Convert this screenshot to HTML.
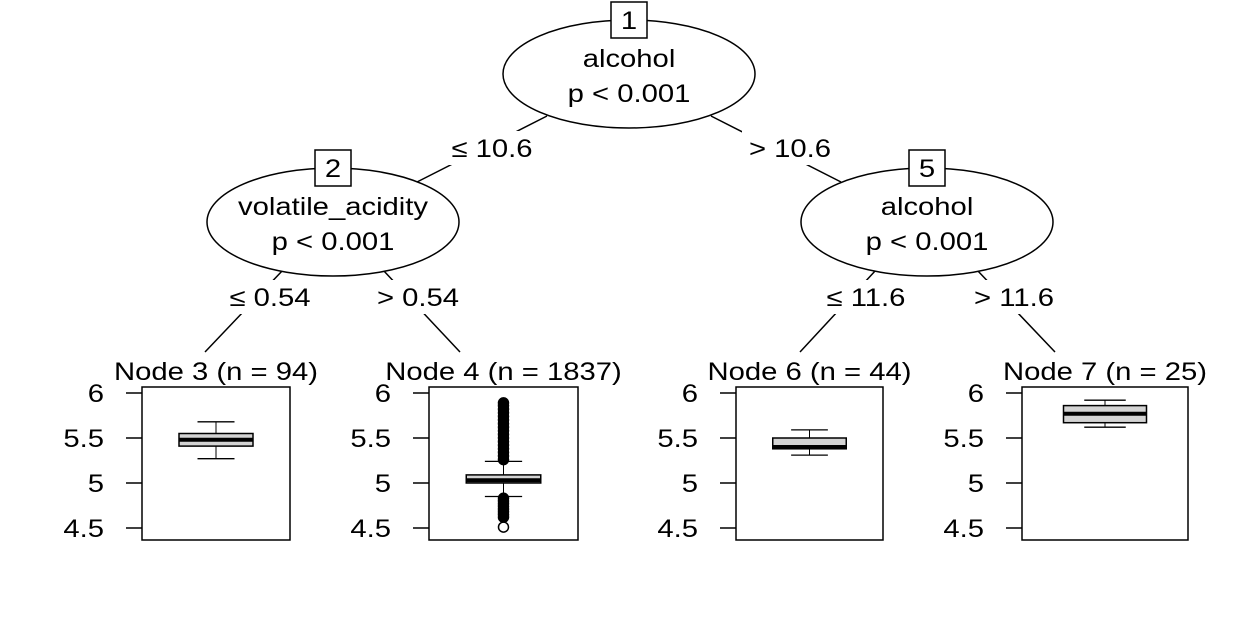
<!DOCTYPE html>
<html><head><meta charset="utf-8"><style>
html,body{margin:0;padding:0;background:#fff;}
svg{display:block;font-family:"Liberation Sans",sans-serif;}
</style></head><body>
<svg id="chart" width="1260" height="630" viewBox="0 0 1260 630"></svg>
<script>
const nodeIds=[3,4,6,7];
const nodeCounts=[94,1837,44,25];
const whiskLow=[5.27,4.85,5.31,5.62];
const q1=[5.41,5.00,5.38,5.67];
const medians=[5.48,5.03,5.40,5.77];
const q3=[5.55,5.09,5.50,5.86];
const whiskHigh=[5.68,5.24,5.59,5.92];
const outliersHigh=[[],[5.26,5.3,5.34,5.38,5.42,5.46,5.5,5.54,5.58,5.62,5.66,5.7,5.74,5.78,5.82,5.86,5.89],[],[]];
const outliersLow=[[],[4.83,4.8,4.77,4.74,4.71,4.68,4.65,4.62,4.51],[],[]];
const yTicks=[4.5,5,5.5,6];
const splitVars=["alcohol","volatile_acidity","alcohol"];
const edgeLabels=["\u2264 10.6","> 10.6","\u2264 0.54","> 0.54","\u2264 11.6","> 11.6"];

const NS="http://www.w3.org/2000/svg";
const svg=document.getElementById('chart');
const FS=25, SX=1.17;
function mk(t,a,p){const e=document.createElementNS(NS,t);for(const k in a)e.setAttribute(k,a[k]);(p||svg).appendChild(e);return e;}
function txt(x,y,s,anchor,p){const e=mk('text',{x:0,y:0,'text-anchor':anchor||'middle','font-size':FS,fill:'#000',transform:'translate('+x+','+y+') scale('+SX+',1)'},p);e.textContent=s;return e;}
const panelX=[[142,290],[429,578],[736,883],[1022,1188]];
const pTop=387,pBot=540;
function yS(v){return 393+(6-v)*90;}

const inner=[{id:1,cx:629,cy:74},{id:2,cx:333,cy:222},{id:5,cx:927,cy:222}];
const edgeFrom=[[547,116],[711,116],[283,270],[383,270],[876,270],[977,270]];
const edgeTo=[[417,182],[841,182],[205,352],[460,352],[800,352],[1055,352]];
const labelPos=[[492,157],[790,157],[270,306],[418,306],[866,306],[1014,306]];
edgeFrom.forEach((f,i)=>{
  const l=mk('line',{x1:f[0],y1:f[1],x2:edgeTo[i][0],y2:edgeTo[i][1],stroke:'#000','stroke-width':1.5});
  
  
});
edgeFrom.forEach((f,i)=>{
  const r=mk('rect',{x:labelPos[i][0]-48,y:labelPos[i][1]-26,width:96,height:34,fill:'#fff'});
  
  
  const t=txt(labelPos[i][0],labelPos[i][1],edgeLabels[i]);
  
  
});
inner.forEach((n,i)=>{
  const g=mk('g',{});
  
  
  mk('ellipse',{cx:n.cx,cy:n.cy,rx:126,ry:54,fill:'#fff',stroke:'#000','stroke-width':1.5},g);
  mk('rect',{x:n.cx-18,y:n.cy-72,width:36,height:36,fill:'#fff',stroke:'#000','stroke-width':1.5},g);
  txt(n.cx,n.cy-45,String(n.id),'middle',g);
  txt(n.cx,n.cy-7,splitVars[i],'middle',g);
  txt(n.cx,n.cy+28,'p < 0.001','middle',g);
});

nodeIds.forEach((id,i)=>{
  const [x0,x1]=panelX[i];const cx=(x0+x1)/2;const w=x1-x0;
  const g=mk('g',{});
  
  
  txt(cx,380,'Node '+id+' (n = '+nodeCounts[i]+')','middle',g);
  mk('rect',{x:x0,y:pTop,width:w,height:pBot-pTop,fill:'none',stroke:'#000','stroke-width':1.5},g);
  yTicks.forEach(v=>{
    mk('line',{x1:x0-16,x2:x0,y1:yS(v),y2:yS(v),stroke:'#000','stroke-width':1.5},g);
    txt(x0-38,yS(v)+9,String(v),'end',g);
  });
  const bw=w/2,cw=w/4;
  mk('line',{x1:cx,x2:cx,y1:yS(whiskHigh[i]),y2:yS(q3[i]),stroke:'#000','stroke-width':1},g);
  mk('line',{x1:cx,x2:cx,y1:yS(whiskLow[i]),y2:yS(q1[i]),stroke:'#000','stroke-width':1},g);
  mk('line',{x1:cx-cw/2,x2:cx+cw/2,y1:yS(whiskHigh[i]),y2:yS(whiskHigh[i]),stroke:'#000','stroke-width':1.3},g);
  mk('line',{x1:cx-cw/2,x2:cx+cw/2,y1:yS(whiskLow[i]),y2:yS(whiskLow[i]),stroke:'#000','stroke-width':1.3},g);
  const b=mk('rect',{x:cx-bw/2,y:yS(q3[i]),width:bw,height:yS(q1[i])-yS(q3[i]),fill:'#d3d3d3',stroke:'#000','stroke-width':1.5},g);
  
  
  mk('line',{x1:cx-bw/2,x2:cx+bw/2,y1:yS(medians[i]),y2:yS(medians[i]),stroke:'#000','stroke-width':4},g);
  outliersHigh[i].concat(outliersLow[i]).forEach(v=>{
    const c=mk('circle',{cx:cx,cy:yS(v),r:5,fill:'#fff',stroke:'#000','stroke-width':1.5},g);
    
    
  });
  if(outliersHigh[i].length>1){
    const hs=outliersHigh[i];
    mk('line',{x1:cx,x2:cx,y1:yS(hs[0]),y2:yS(hs[hs.length-1]),stroke:'#000','stroke-width':11,'stroke-linecap':'round'},g);
  }
  if(outliersLow[i].length>2){
    const ls=outliersLow[i];
    mk('line',{x1:cx,x2:cx,y1:yS(ls[0]),y2:yS(ls[ls.length-2]),stroke:'#000','stroke-width':11,'stroke-linecap':'round'},g);
  }
});
</script>
</body></html>
